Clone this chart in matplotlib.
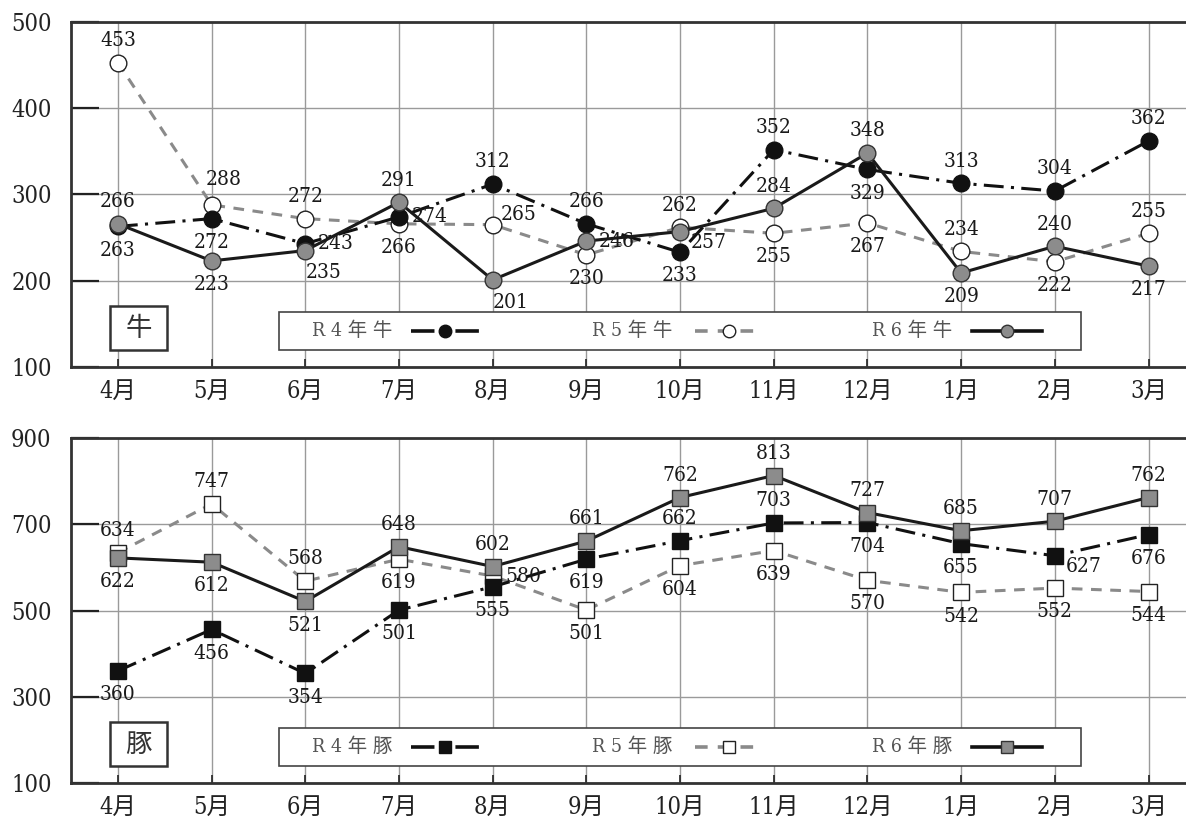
import matplotlib
matplotlib.use("Agg")
import matplotlib.pyplot as plt
from matplotlib.lines import Line2D
from matplotlib.patches import Rectangle

plt.rcParams['font.family'] = ['DejaVu Serif', 'Noto Sans CJK JP']
plt.rcParams['font.stretch'] = 'condensed'

# ---------------------------
# 1. DATA
# ---------------------------
months = ['4月', '5月', '6月', '7月', '8月', '9月', '10月', '11月', '12月', '1月', '2月', '3月']

# 牛
cow_r4 = [263, 272, 243, 274, 312, 266, 233, 352, 329, 313, 304, 362]
cow_r5 = [453, 288, 272, 266, 265, 230, 262, 255, 267, 234, 222, 255]
cow_r6 = [266, 223, 235, 291, 201, 246, 257, 284, 348, 209, 240, 217]

# 豚
pig_r4 = [360, 456, 354, 501, 555, 619, 662, 703, 704, 655, 627, 676]
pig_r5 = [634, 747, 568, 619, 580, 501, 604, 639, 570, 542, 552, 544]
pig_r6 = [622, 612, 521, 648, 602, 661, 762, 813, 727, 685, 707, 762]

# where each value label sits: a=above, b=below, r=right, ar/br/rb = shifted
cow_r4_pos = ['b', 'b', 'r', 'r', 'a', 'a', 'b', 'a', 'b', 'a', 'a', 'a']
cow_r5_pos = ['a', 'ar', 'a', 'b', 'ra', 'b', 'a', 'b', 'b', 'a', 'b', 'a']
cow_r6_pos = ['a', 'b', 'br', 'a', 'br', 'r', 'rb', 'a', 'a', 'b', 'a', 'b']
pig_r4_pos = ['b', 'b', 'b', 'b', 'b', 'b', 'a', 'a', 'b', 'b', 'rb', 'b']
pig_r5_pos = ['a', 'a', 'a', 'b', 'r', 'b', 'b', 'b', 'b', 'b', 'b', 'b']
pig_r6_pos = ['b', 'b', 'b', 'a', 'a', 'a', 'a', 'a', 'a', 'a', 'a', 'a']

offsets = {'a': (0, 16, 'center'), 'b': (0, -17, 'center'), 'r': (9, 0, 'left'),
           'ar': (9, 18, 'center'), 'br': (13, -16, 'center'), 'ra': (6, 7, 'left'),
           'rb': (8, -8, 'left')}

# ---------------------------
# 2. STYLES
# ---------------------------
x = list(range(len(months)))
dashdot = (0, (6.5, 2.4, 1, 2.4))
dashed = (0, (3.5, 2.8))
styles = [
    dict(color='#111111', ls=dashdot, lw=2.2, mfc='#111111', mec='#111111', mew=1.0, z=4),
    dict(color='#8a8a8a', ls=dashed, lw=2.2, mfc='white', mec='#222222', mew=1.0, z=3),
    dict(color='#1a1a1a', ls='-', lw=2.2, mfc='#8c8c8c', mec='#333333', mew=1.0, z=5),
]


def draw_panel(ax, series, positions, marker, ylim, yticks, tag, names):
    ax.set_xlim(-0.5, 11.4)
    ax.set_ylim(*ylim)
    ax.set_yticks(yticks)
    ax.set_xticks(x)
    ax.set_xticklabels(months)
    ax.grid(True, color='#9a9a9a', lw=1.0, zorder=0)
    ax.set_axisbelow(True)
    ax.tick_params(axis='y', direction='in', length=20, width=1.6,
                   color='#222222', labelsize=17, labelcolor='#222222', pad=14)
    ax.tick_params(axis='x', direction='in', length=6, width=1.2, color='#222222',
                   labelsize=17, labelcolor='#222222', pad=9)
    ax.spines['right'].set_visible(False)
    for s in ('top', 'bottom', 'left'):
        ax.spines[s].set_color('#333333')
        ax.spines[s].set_linewidth(2.0)

    for vals, pos, st in zip(series, positions, styles):
        ax.plot(x, vals, color=st['color'], ls=st['ls'], lw=st['lw'], marker=marker,
                ms=12, mfc=st['mfc'], mec=st['mec'], mew=st['mew'], zorder=st['z'])
        for xi, v, p in zip(x, vals, pos):
            dx, dy, ha = offsets[p]
            ax.annotate(str(v), (xi, v), xytext=(dx, dy), textcoords='offset points',
                        ha=ha, va='center', fontsize=15, color='#1a1a1a', zorder=6)

    # tag box (牛 / 豚)
    ax.add_patch(Rectangle((0.035, 0.049), 0.051, 0.128, transform=ax.transAxes,
                           fc='white', ec='#333333', lw=1.8, zorder=7))
    ax.text(0.0605, 0.113, tag, transform=ax.transAxes, ha='center', va='center',
            fontsize=19, color='#333333', family='Noto Sans CJK JP', zorder=8)

    # legend box
    ax.add_patch(Rectangle((0.1865, 0.049), 0.7193, 0.11, transform=ax.transAxes,
                           fc='white', ec='#444444', lw=1.2, zorder=7))
    text_x = [0.216, 0.467, 0.718]
    line_x = [(0.305, 0.366), (0.560, 0.620), (0.808, 0.871)]
    for name, tx, (l0, l1), st in zip(names, text_x, line_x, styles):
        ax.text(tx, 0.104, name, transform=ax.transAxes, ha='left', va='center',
                fontsize=14, color='#555555', zorder=8)
        ax.add_line(Line2D([l0, l1], [0.104, 0.104], transform=ax.transAxes,
                           color=st['color'] if st['ls'] != '-' else '#111111',
                           ls=st['ls'], lw=2.6, zorder=8))
        ax.add_line(Line2D([(l0 + l1) / 2], [0.104], transform=ax.transAxes,
                           marker=marker, ms=9, mfc=st['mfc'], mec=st['mec'],
                           mew=1.0, ls='none', zorder=9))


# ---------------------------
# 3. FIGURE
# ---------------------------
fig = plt.figure(figsize=(11.86, 8.17), dpi=100)
ax1 = fig.add_axes([0.0599, 0.5508, 0.9401, 0.4223])
ax2 = fig.add_axes([0.0599, 0.0416, 0.9401, 0.4223])

draw_panel(ax1, [cow_r4, cow_r5, cow_r6], [cow_r4_pos, cow_r5_pos, cow_r6_pos], 'o',
           (100, 500), [100, 200, 300, 400, 500], '牛',
           ['R 4 年 牛', 'R 5 年 牛', 'R 6 年 牛'])
draw_panel(ax2, [pig_r4, pig_r5, pig_r6], [pig_r4_pos, pig_r5_pos, pig_r6_pos], 's',
           (100, 900), [100, 300, 500, 700, 900], '豚',
           ['R 4 年 豚', 'R 5 年 豚', 'R 6 年 豚'])

fig.savefig('out.png', dpi=100)
